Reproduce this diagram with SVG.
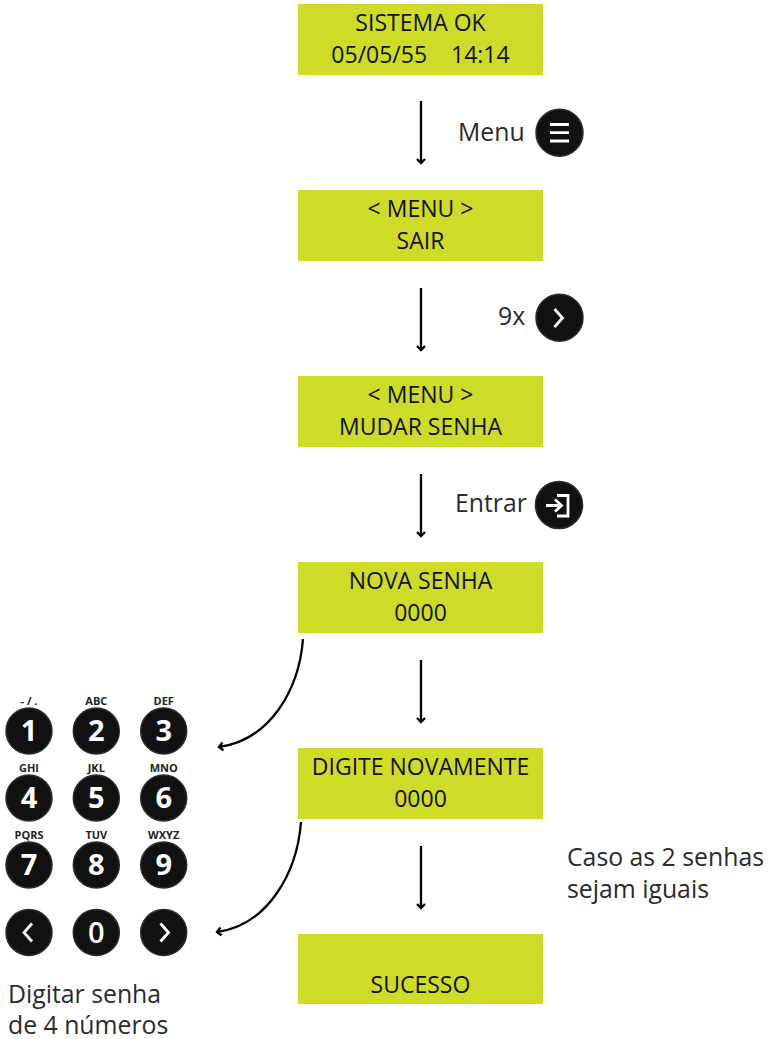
<svg xmlns="http://www.w3.org/2000/svg" width="769" height="1039" viewBox="0 0 769 1039">
<style>
text{font-family:"Open Sans","Noto Sans","Liberation Sans",sans-serif}
.box{fill:#cedc28}
.lcd{font-size:23px;fill:#111;text-anchor:middle}
.lbl{font-size:24.8px;fill:#2b2b2b}
.btn{fill:#111;stroke:#2c2c2c;stroke-width:1.5}
.num{font-size:29px;font-weight:700;fill:#fff;text-anchor:middle}
.let{font-size:11px;font-weight:700;fill:#222;text-anchor:middle}
.ico{fill:none;stroke:#fff;stroke-width:2.8}
.con{fill:none;stroke:#000;stroke-width:2.300;marker-end:url(#a)}
</style>
<defs>
<marker id="a" markerUnits="userSpaceOnUse" markerWidth="14" markerHeight="14" refX="10" refY="7" orient="auto">
<path d="M6 3 L10 7 L6 11" fill="none" stroke="#000" stroke-width="2.300"/>
</marker>
</defs>
<g id="connectors">
<path class="con" d="M421 101V163"/>
<path class="con" d="M421 288V350"/>
<path class="con" d="M421 474V536"/>
<path class="con" d="M421 660V722"/>
<path class="con" d="M421 846V908"/>
<path class="con" d="M303 639C299 690 270 740 219 747"/>
<path class="con" d="M301 822C297 873 268 925 217 932"/>
</g>
<g id="n1"><rect class="box" x="298" y="4" width="245" height="71"/><text class="lcd" x="420.500" y="31">SISTEMA OK</text><text class="lcd" x="420.500" y="63" xml:space="preserve">05/05/55    14:14</text></g>
<g id="n2"><rect class="box" x="298" y="190" width="245" height="71"/><text class="lcd" x="420.500" y="217">&lt; MENU &gt;</text><text class="lcd" x="420.500" y="249">SAIR</text></g>
<g id="n3"><rect class="box" x="298" y="376" width="245" height="71"/><text class="lcd" x="420.500" y="403">&lt; MENU &gt;</text><text class="lcd" x="420.500" y="435">MUDAR SENHA</text></g>
<g id="n4"><rect class="box" x="298" y="562" width="245" height="71"/><text class="lcd" x="420.500" y="589">NOVA SENHA</text><text class="lcd" x="420.500" y="621">0000</text></g>
<g id="n5"><rect class="box" x="298" y="748" width="245" height="71"/><text class="lcd" x="420.500" y="775">DIGITE NOVAMENTE</text><text class="lcd" x="420.500" y="807">0000</text></g>
<g id="n6"><rect class="box" x="298" y="934" width="245" height="70"/><text class="lcd" x="420.500" y="993">SUCESSO</text></g>
<g id="menu"><text class="lbl" x="458" y="141">Menu</text><circle class="btn" cx="559.500" cy="132.700" r="23.500"/><path class="ico" d="M550 124.500H569M550 132.700H569M550 141H569"/></g>
<g id="nine"><text class="lbl" x="498" y="325">9x</text><circle class="btn" cx="559.500" cy="317.700" r="23.500"/><path class="ico" d="M554.500 309L562.500 318L554.500 327"/></g>
<g id="entrar"><text class="lbl" x="455" y="512">Entrar</text><circle class="btn" cx="559" cy="505" r="23.500"/><path class="ico" d="M557 495.500H568V516H557M546 505.500H561M555 499.500L561.500 505.500L555 511.500"/></g>
<g id="k1"><text class="let" x="29" y="705">- / .</text><circle class="btn" cx="29" cy="731" r="23"/><text class="num" x="29" y="741">1</text></g>
<g id="k2"><text class="let" x="96.300" y="705">ABC</text><circle class="btn" cx="96.300" cy="731" r="23"/><text class="num" x="96.300" y="741">2</text></g>
<g id="k3"><text class="let" x="163.700" y="705">DEF</text><circle class="btn" cx="163.700" cy="731" r="23"/><text class="num" x="163.700" y="741">3</text></g>
<g id="k4"><text class="let" x="29" y="772">GHI</text><circle class="btn" cx="29" cy="798" r="23"/><text class="num" x="29" y="808">4</text></g>
<g id="k5"><text class="let" x="96.300" y="772">JKL</text><circle class="btn" cx="96.300" cy="798" r="23"/><text class="num" x="96.300" y="808">5</text></g>
<g id="k6"><text class="let" x="163.700" y="772">MNO</text><circle class="btn" cx="163.700" cy="798" r="23"/><text class="num" x="163.700" y="808">6</text></g>
<g id="k7"><text class="let" x="29" y="839">PQRS</text><circle class="btn" cx="29" cy="865" r="23"/><text class="num" x="29" y="875">7</text></g>
<g id="k8"><text class="let" x="96.300" y="839">TUV</text><circle class="btn" cx="96.300" cy="865" r="23"/><text class="num" x="96.300" y="875">8</text></g>
<g id="k9"><text class="let" x="163.700" y="839">WXYZ</text><circle class="btn" cx="163.700" cy="865" r="23"/><text class="num" x="163.700" y="875">9</text></g>
<g id="kl"><circle class="btn" cx="29" cy="932.500" r="23"/><path class="ico" d="M32 923.500L24 932.500L32 941.500"/></g>
<g id="k0"><circle class="btn" cx="96.300" cy="932.500" r="23"/><text class="num" x="96.300" y="942.500" style="font-weight:600">0</text></g>
<g id="kr"><circle class="btn" cx="163.700" cy="932.500" r="23"/><path class="ico" d="M160.500 923.500L168.500 932.500L160.500 941.500"/></g>
<g id="note1"><text class="lbl" x="8" y="1003">Digitar senha</text><text class="lbl" x="8" y="1034">de 4 números</text></g>
<g id="note2"><text class="lbl" x="567" y="866">Caso as 2 senhas</text><text class="lbl" x="567" y="898">sejam iguais</text></g>
</svg>
